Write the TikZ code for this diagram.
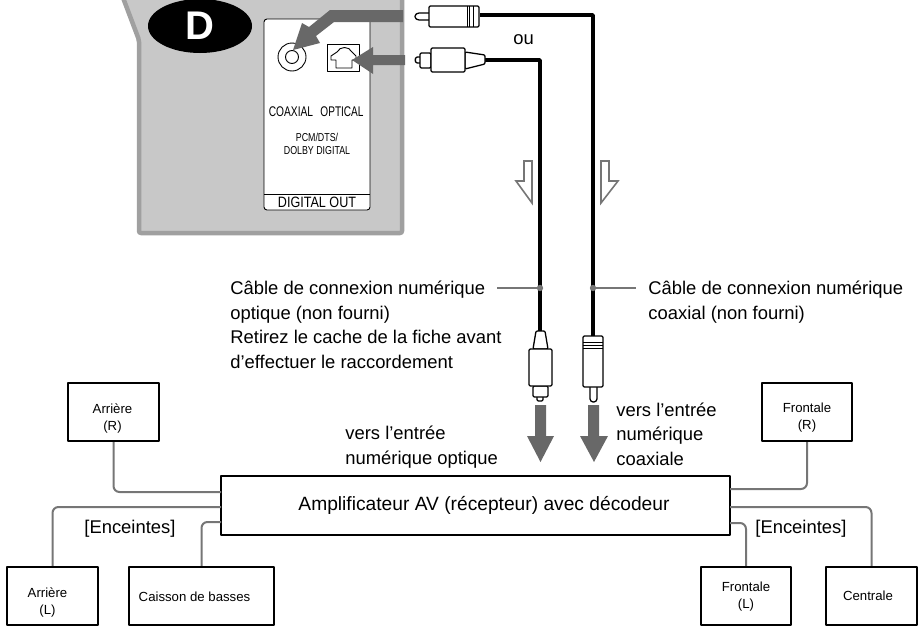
\documentclass[tikz,border=0pt]{standalone}
\usepackage{fontspec}
\setmainfont{Liberation Sans}
\usetikzlibrary{shapes.geometric}
\definecolor{devicegray}{RGB}{200,200,200}
\definecolor{edgegray}{RGB}{160,160,160}
\definecolor{markgray}{RGB}{104,104,104}
\definecolor{wiregray}{RGB}{118,118,118}
\tikzset{
  spkbox/.style={draw,line width=2.4pt,minimum height=58pt,inner sep=0pt},
  spktext/.style={inner sep=0pt,align=center,font=\fontsize{13.2}{17}\selectfont},
  wire/.style={wiregray,line width=2pt,rounded corners=6pt},
  cable/.style={line width=3.6pt,line join=round},
  plug/.style={draw,fill=white,line width=1.3pt,line join=round,rounded corners=1.2pt},
  lab/.style={anchor=base west,inner sep=0pt,align=left,font=\fontsize{18.4}{24.5}\selectfont},
  panellab/.style={inner sep=0pt,align=center,transform shape},
  leader/.style={wiregray,line width=1.3pt},
  hollow/.style={draw=wiregray,fill=white,line width=1.6pt,line join=miter},
}
\begin{document}
\begin{tikzpicture}[x=1pt,y=-1pt,line width=0.8pt,line cap=butt,line join=round]
  \path[use as bounding box,clip] (0,0) rectangle (918,627);

  % device
  \draw[draw=edgegray,fill=devicegray,line width=4.5pt,rounded corners=2pt]
    (122,-5) -- (139,40) -- (139,233) -- (402,233) -- (402,-5);
  \node[fill=black,ellipse,minimum width=104pt,minimum height=54pt,inner sep=0pt,
    text=white,font=\fontsize{40}{40}\selectfont\bfseries] (badge) at (200,26) {D};

  % panel
  \draw[fill=white,line width=0.9pt,rounded corners=3pt] (264,19) rectangle (370,210);
  \draw[line width=0.9pt] (264,194) -- (370,194);
  \draw[line width=0.9pt] (292,57) circle (14);
  \draw[line width=0.9pt] (292,57) circle (6.5);
  \draw[line width=0.9pt] (327,44) rectangle (359,71);
  \draw[line width=0.9pt] (336,68) -- (352,68) -- (352,60) -- (356,60) -- (356,56) -- (352,52)
    .. controls (349,46) and (340,46) .. (337,52) -- (331,56) -- (331,60) -- (336,60) -- cycle;
  \node[panellab,font=\fontsize{14}{14}\selectfont,xscale=.73] (coaxlab) at (291,112) {COAXIAL};
  \node[panellab,font=\fontsize{14}{14}\selectfont,xscale=.72] (optlab) at (342,112) {OPTICAL};
  \node[panellab,font=\fontsize{11.5}{13.5}\selectfont,xscale=.77] (fmtlab) at (317,144) {PCM/DTS/\\DOLBY DIGITAL};
  \node[panellab,font=\fontsize{15}{15}\selectfont,xscale=.84] (outlab) at (317,202) {DIGITAL OUT};

  % gray pointers
  \fill[markgray] (403,10) -- (330,10) -- (309,27) -- (302,23) -- (293,50) -- (320,43)
    -- (316,36) -- (334,22) -- (403,22) -- cycle;
  \fill[markgray] (405,55) -- (373,55) -- (373,47) -- (352,60) -- (373,74) -- (373,65) -- (405,65) -- cycle;

  % top plugs
  \coordinate (coaxtop) at (480,15);
  \coordinate (opttop) at (485,60);
  \coordinate (coaxend) at (593,336);
  \coordinate (optend) at (540,331);
  \draw[cable] (coaxtop) -| (coaxend);
  \draw[cable] (opttop) -| (optend);
  \draw[plug] (429,13) -- (418,13) -- (415,15) -- (415,18) -- (418,20) -- (429,20);
  \draw[plug] (429,6) rectangle (479,27);
  \draw[line width=0.7pt] (467,6) -- (467,27) (469.5,6) -- (469.5,27) (473,6) -- (473,27);
  \draw[plug] (420,57) -- (416,57) -- (415,60) -- (416,63) -- (420,63);
  \draw[plug] (420,53) rectangle (431,68);
  \draw[plug] (465,52) -- (485,55) -- (485,64) -- (465,69) -- cycle;
  \draw[plug] (431,48) rectangle (465,72);
  \node[lab] (orlab) at (513,44) {ou};

  % hollow arrows
  \draw[hollow] (524,161) -- (532,161) -- (532,203) -- (516,181) -- (524,181) -- cycle;
  \draw[hollow] (601,161) -- (609,161) -- (609,181) -- (618,181) -- (601,203) -- cycle;

  % cable labels
  \node[lab] (optcap) at (230,368) {Câble de connexion numérique\\optique (non fourni)\\Retirez le cache de la fiche avant\\d’effectuer le raccordement};
  \node[lab] (coaxcap) at (648,319) {Câble de connexion numérique\\coaxial (non fourni)};
  \coordinate (optdot) at (540,288);
  \coordinate (coaxdot) at (593,288);
  \coordinate (optlead) at (497,288);
  \coordinate (coaxlead) at (636,288);
  \draw[leader] (optlead) -- (optdot);
  \draw[leader] (coaxdot) -- (coaxlead);
  \fill[wiregray] (optdot) circle (3.2);
  \fill[wiregray] (coaxdot) circle (3.2);

  % lower plugs
  \draw[plug] (536,331) -- (545,331) -- (548,349) -- (533,349) -- cycle;
  \draw[plug] (537,396) -- (537,401) -- (543,401) -- (543,396);
  \draw[plug] (533,386) rectangle (548,397);
  \draw[plug] (529,349) rectangle (552,386);
  \draw[plug] (590,386) -- (590,400) -- (592,402) -- (595,402) -- (597,400) -- (597,386);
  \draw[plug] (583,336) rectangle (603,387);
  \draw[line width=0.7pt] (583,342) -- (603,342) (583,345) -- (603,345) (583,348) -- (603,348);

  % down arrows
  \fill[markgray] (535,405) -- (546,405) -- (546,436) -- (554,436) -- (540.5,462) -- (527,436) -- (535,436) -- cycle;
  \fill[markgray] (588,405) -- (599,405) -- (599,436) -- (608,436) -- (594,462) -- (580,436) -- (588,436) -- cycle;
  \node[lab] (optin) at (345,464) {vers l’entrée\\numérique optique};
  \node[lab] (coaxin) at (616,465) {vers l’entrée\\numérique\\coaxiale};

  % amplifier and speakers
  \node[draw,line width=2.6pt,minimum width=509pt,minimum height=59pt,inner sep=0pt,
    font=\fontsize{19.2}{19}\selectfont] (amp) at (475.5,505.5) {\hspace*{17pt}Amplificateur AV (récepteur) avec décodeur};
  \node[spkbox,minimum width=91pt] (rearR) at (113.5,412) {};
  \node[spkbox,minimum width=91pt] (rearL) at (52.5,596) {};
  \node[spkbox,minimum width=145pt] (sub) at (201.5,596) {};
  \node[spkbox,minimum width=90pt] (frontR) at (807,412) {};
  \node[spkbox,minimum width=90pt] (frontL) at (746,596) {};
  \node[spkbox,minimum width=91pt] (center) at (871.5,596) {};
  \node[spktext] (rearRtext) at (112.5,418) {Arrière\\(R)};
  \node[spktext] (rearLtext) at (47.5,602) {Arrière\\(L)};
  \node[spktext] (subtext) at (194.5,597) {Caisson de basses};
  \node[spktext] (frontRtext) at (807,418) {Frontale\\(R)};
  \node[spktext] (frontLtext) at (746,597) {Frontale\\(L)};
  \node[spktext] (centertext) at (868,596) {Centrale};
  \coordinate (amprearR) at (221,492);
  \coordinate (amprearL) at (221,507);
  \coordinate (ampsub) at (221,522);
  \coordinate (ampfrontR) at (730,489);
  \coordinate (ampcenter) at (730,507);
  \coordinate (ampfrontL) at (730,523);
  \draw[wire] (rearR.south) |- (amprearR);
  \draw[wire] (rearL.north) |- (amprearL);
  \draw[wire] (sub.north) |- (ampsub);
  \draw[wire] (frontR.south) |- (ampfrontR);
  \draw[wire] (center.north) |- (ampcenter);
  \draw[wire] (frontL.north) |- (ampfrontL);
  \node[lab] (spkleft) at (84,533) {[Enceintes]};
  \node[lab] (spkright) at (755,533) {[Enceintes]};
\end{tikzpicture}
\end{document}
